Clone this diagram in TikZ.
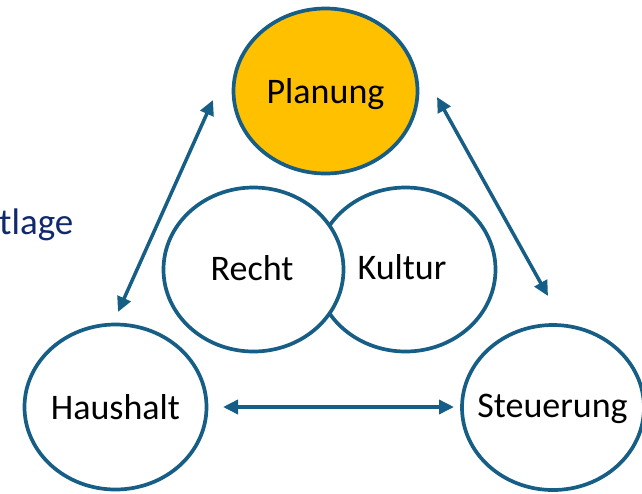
\documentclass[tikz,border=0pt]{standalone}
\usepackage{fontspec}
\setmainfont{Carlito}
\usetikzlibrary{arrows.meta,shapes.geometric}
\definecolor{ringblue}{RGB}{22,94,133}
\definecolor{gold}{RGB}{255,192,0}
\definecolor{navy}{RGB}{16,40,110}
\tikzset{
  ring/.style={ellipse, draw=ringblue, line width=3.7pt, fill=white,
    inner sep=0pt, minimum width=182pt, minimum height=165pt},
  txt/.style={inner sep=0pt, font=\fontsize{36}{43}\selectfont, text=black, text depth=0pt},
  link/.style={draw=ringblue, line width=3.5pt,
    {Triangle[length=15pt,width=14pt]}-{Triangle[length=15pt,width=14pt]}}
}
\begin{document}
\begin{tikzpicture}[x=1pt,y=-1pt]
\useasboundingbox (0,0) rectangle (642,493);
\node[ring, fill=gold, minimum width=184pt] (Planung) at (325.5,91) {};
\node[txt] (tPlanung) at (Planung) {Planung};
\node[ring] (Haushalt) at (115.5,407) {};
\node[txt] (tHaushalt) at (Haushalt) {Haushalt};
\node[ring] (Steuerung) at (553,407.5) {};
\node[txt] (tSteuerung) at (552.5,405.5) {Steuerung};
\node[ring, minimum width=180pt, minimum height=164pt] (Kultur) at (405.5,269.5) {};
\node[txt] (tKultur) at (402,266.5) {Kultur};
\node[ring, minimum width=180pt, minimum height=164pt] (Recht) at (253.5,269.5) {};
\node[txt] (tRecht) at (252,268) {Recht};
\node[anchor=base west, text=navy, font=\fontsize{37}{44}\selectfont, inner sep=0pt] (lage) at (-1,234) {tlage};
\coordinate (hp1) at (118,312);
\coordinate (hp2) at (213,100);
\coordinate (ps1) at (437,97);
\coordinate (ps2) at (548,296);
\coordinate (hs1) at (223,407);
\coordinate (hs2) at (454,407);
\draw[link] (hp1) -- (hp2);
\draw[link] (ps1) -- (ps2);
\draw[link] (hs1) -- (hs2);
\end{tikzpicture}
\end{document}
